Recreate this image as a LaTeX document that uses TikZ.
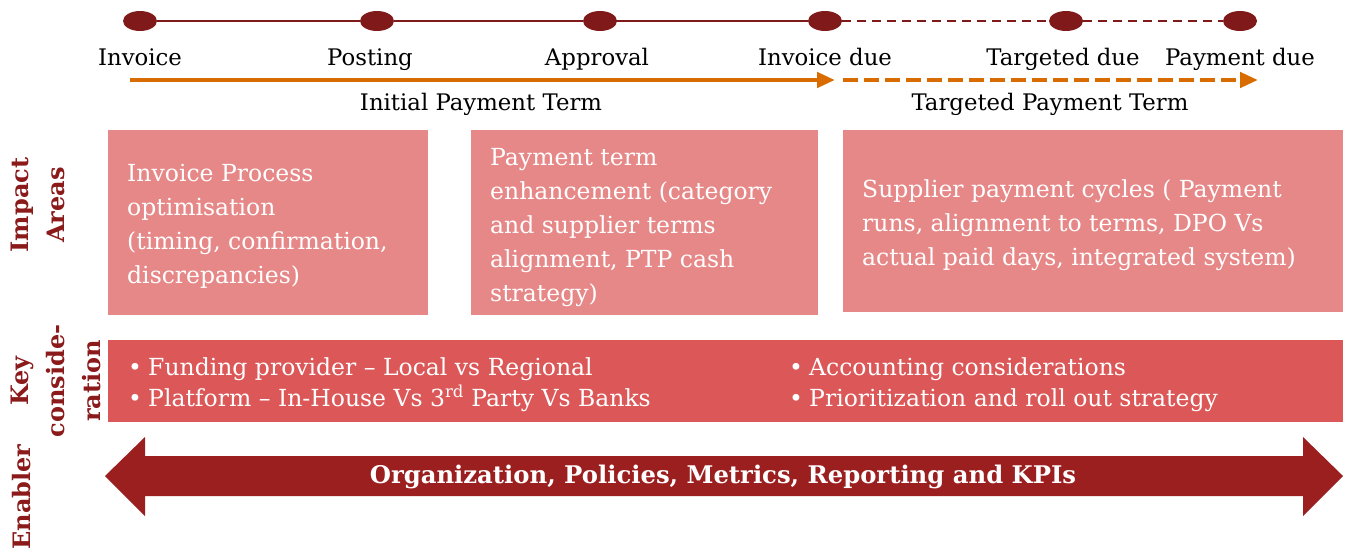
\documentclass[tikz,border=0pt]{standalone}
\usepackage{fontspec}
\setmainfont{DejaVu Serif}
\usetikzlibrary{shapes.geometric,arrows.meta}
\definecolor{dotred}{RGB}{128,26,26}
\definecolor{lblred}{RGB}{139,26,26}
\definecolor{orng}{RGB}{217,108,0}
\definecolor{impbox}{RGB}{231,136,136}
\definecolor{keybox}{RGB}{220,88,88}
\definecolor{enab}{RGB}{155,31,31}
\tikzset{
  dot/.style={ellipse, fill=dotred, minimum width=34pt, minimum height=20pt, inner sep=0pt},
  tl/.style={draw=dotred, line width=1.6pt},
  tldash/.style={tl, dash pattern=on 9pt off 6pt},
  tlabel/.style={font=\fontsize{22.8}{26}\selectfont, inner sep=0pt, anchor=base},
  oarrow/.style={draw=orng, line width=4.5pt, -{Triangle[length=18pt,width=15pt]}},
  oarrowd/.style={oarrow, dash pattern=on 15pt off 6pt},
  impbg/.style={fill=impbox, anchor=north west, inner sep=0pt},
  imptext/.style={text=white, anchor=west, align=left, inner sep=0pt, font=\fontsize{23.5}{34}\selectfont},
  keyline/.style={text=white, anchor=west, align=left, inner sep=0pt, font=\fontsize{23.5}{31}\selectfont},
  side/.style={text=lblred, rotate=90, align=center, inner sep=0pt, font=\bfseries\fontsize{24}{36}\selectfont},
}
\newcommand{\bul}{\makebox[20pt][l]{•}}
\begin{document}
\begin{tikzpicture}[x=1pt,y=-1pt]
\path[use as bounding box] (0,0) rectangle (1348,551);
% timeline dots
\node[dot] (d1) at (140,21) {};
\node[dot] (d2) at (377,21) {};
\node[dot] (d3) at (600,21) {};
\node[dot] (d4) at (825,21) {};
\node[dot] (d5) at (1066,21) {};
\node[dot] (d6) at (1240,21) {};
\draw[tl] (d1) -- (d2);
\draw[tl] (d2) -- (d3);
\draw[tl] (d3) -- (d4);
\draw[tldash] (d4) -- (d5);
\draw[tldash] (d5) -- (d6);
% labels
\node[tlabel] (l1) at (140,65) {Invoice};
\node[tlabel] (l2) at (370,65) {Posting};
\node[tlabel] (l3) at (597,65) {Approval};
\node[tlabel] (l4) at (825,65) {Invoice due};
\node[tlabel] (l5) at (1063,65) {Targeted due};
\node[tlabel] (l6) at (1240,65) {Payment due};
% orange arrows
\coordinate (a1) at (130,80);
\coordinate (a2) at (835,80);
\coordinate (b1) at (843,80);
\coordinate (b2) at (1258,80);
\draw[oarrow] (a1) -- (a2);
\draw[oarrowd] (b1) -- (b2);
\node[tlabel] (t1) at (481,110) {Initial Payment Term};
\node[tlabel] (t2) at (1050,110) {Targeted Payment Term};
% impact boxes
\node[impbg, minimum width=320pt, minimum height=185pt] (i1) at (108,130) {};
\node[impbg, minimum width=347pt, minimum height=185pt] (i2) at (471,130) {};
\node[impbg, minimum width=500pt, minimum height=182pt] (i3) at (843,130) {};
\node[imptext] (i1t) at (127,226) {Invoice Process\\optimisation\\(timing, confirmation,\\discrepancies)};
\node[imptext] (i2t) at (490,228) {Payment term\\enhancement (category\\and supplier terms\\alignment, PTP cash\\strategy)};
\node[imptext] (i3t) at (862,225) {Supplier payment cycles ( Payment\\runs, alignment to terms, DPO Vs\\actual paid days, integrated system)};
% key considerations
\node[fill=keybox, anchor=north west, minimum width=1235pt, minimum height=82pt, inner sep=0pt] (k) at (108,340) {};
\node[keyline] (k1) at (128,385) {\bul Funding provider -- Local vs Regional\\\bul Platform -- In-House Vs 3\textsuperscript{rd} Party Vs Banks};
\node[keyline] (k2) at (789,385) {\bul Accounting considerations\\\bul Prioritization and roll out strategy};
% enabler arrow
\fill[enab] (105,476) -- (145,437) -- (145,456) -- (1303,456) -- (1303,437) -- (1343,476) -- (1303,516) -- (1303,496) -- (145,496) -- (145,516) -- cycle;
\node[text=white, font=\bfseries\fontsize{24.3}{28}\selectfont, inner sep=0pt] (e) at (723,477) {Organization, Policies, Metrics, Reporting and KPIs};
% side labels
\node[side] (s1) at (38,205) {Impact\\Areas};
\node[side] (s2) at (56,381) {Key\\conside-\\ration};
\node[side] (s3) at (22,497) {Enabler};
\end{tikzpicture}
\end{document}
